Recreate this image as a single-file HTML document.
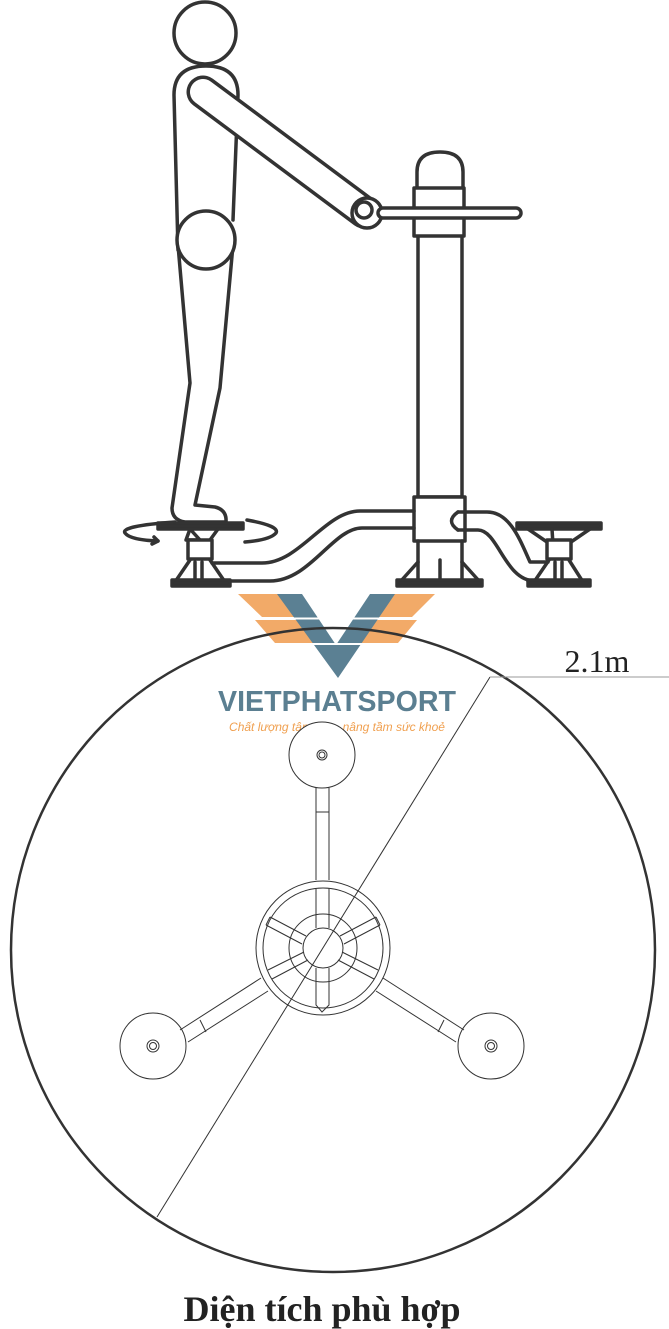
<!DOCTYPE html>
<html><head><meta charset="utf-8"><style>
html,body{margin:0;padding:0;background:#fff;}
svg{display:block;}
</style></head><body>
<svg width="669" height="1329" viewBox="0 0 669 1329" xmlns="http://www.w3.org/2000/svg">
<g fill="none" stroke="#333" stroke-width="3.5" stroke-linejoin="round" stroke-linecap="round">
  <circle cx="205" cy="33" r="31" fill="#fff"/>
  <path d="M178,250 L174,95 Q174,66 206,66 Q238,66 238,95 L233,220" fill="#fff"/>
  <path d="M178,245 L190,383 L172,508 Q172,520 185,522 L226,522 Q227,510 215,507 L195,505 L220,388 L233,245" fill="#fff"/>
  <circle cx="206" cy="240" r="29" fill="#fff"/>
  <line x1="203" y1="92" x2="364" y2="212" stroke="#333" stroke-width="33"/>
  <line x1="203" y1="92" x2="364" y2="212" stroke="#fff" stroke-width="26"/>
  <circle cx="367" cy="213" r="15" fill="#fff"/>
  <circle cx="364" cy="210" r="8"/>
  <rect x="418" y="232" width="44" height="265" fill="#fff"/>
  <path d="M417,188 L417,172 Q417,152 440,152 Q463,152 463,172 L463,188" fill="#fff"/>
  <rect x="414" y="188" width="50" height="48" fill="#fff"/>
  <rect x="378" y="208" width="143" height="10" rx="5" fill="#fff"/>
  <rect x="414" y="497" width="51" height="44" fill="#fff"/>
  <path d="M418,541 L418,580 M462,541 L462,580 M440,560 L440,580"/>
  <path d="M418,562 L400,582 M462,562 L480,582"/>
  <rect x="397" y="580" width="85" height="6" fill="#333"/>
  <path d="M414,511 H360 C325,511 300,563 262,563 H212"/>
  <path d="M414,528 H362 C333,528 310,581 270,581 H232"/>
  <path d="M458,512 H487 C510,512 520,540 530,562 H548"/>
  <path d="M458,530 H478 C498,530 505,581 535,581 H528"/>
  <path d="M458,512 Q445,521 458,530"/>
  <rect x="158" y="523" width="85" height="6" fill="#333"/>
  <path d="M190,529 L200,540 L186,540 Z M218,529 L210,540"/>
  <rect x="188" y="540" width="24" height="19" fill="#fff"/>
  <path d="M190,560 L175,582 M210,560 L225,582 M195,562 L195,582 M202,562 L202,582"/>
  <rect x="172" y="580" width="58" height="6" fill="#333"/>
  <path d="M175,522 Q120,526 125,533 Q130,540 158,541"/>
  <path d="M154,537 L158,541 L152,544" />
  <path d="M247,520 Q280,526 276,533 Q270,540 245,542"/>
  <rect x="517" y="523" width="84" height="6" fill="#333"/>
  <path d="M528,529 L547,542 M590,529 L571,542 M552,529 L553,545"/>
  <rect x="547" y="540" width="24" height="19" fill="#fff"/>
  <path d="M549,560 L534,582 M569,560 L583,582 M555,562 L555,582 M562,562 L562,582"/>
  <rect x="528" y="580" width="62" height="6" fill="#333"/>
</g>

<!-- logo -->
<g>
  <polygon points="238,594 290,594 307,617 262,617" fill="#f2aa68"/>
  <polygon points="255,620 302,620 315,643 275,643" fill="#f2aa68"/>
  <polygon points="435,594 385,594 366,617 412,617" fill="#f2aa68"/>
  <polygon points="417,620 370,620 356,643 398,643" fill="#f2aa68"/>
  <polygon points="277,594 302,594 336,645 370,594 395,594 338,678" fill="#5b8093"/>
  <line x1="240" y1="618.5" x2="440" y2="618.5" stroke="#fff" stroke-width="2"/>
  <line x1="240" y1="644" x2="440" y2="644" stroke="#fff" stroke-width="2"/>
</g>
<text x="337" y="711" text-anchor="middle" font-family="Liberation Sans, sans-serif" font-weight="bold" font-size="29" fill="#5b7f91" textLength="238" lengthAdjust="spacingAndGlyphs">VIETPHATSPORT</text>
<text x="337" y="731" text-anchor="middle" font-family="Liberation Sans, sans-serif" font-style="italic" font-size="12" fill="#f0a050">Chất lượng tận tâm - nâng tầm sức khoẻ</text>

<g fill="none" stroke="#333">
  <circle cx="333" cy="950" r="322" stroke-width="2.5"/>
  <line x1="490" y1="677" x2="157" y2="1217" stroke-width="1"/>
  <line x1="490" y1="677" x2="669" y2="677" stroke="#999" stroke-width="1"/>
  <g stroke-width="1">
    <circle cx="322" cy="755" r="33" fill="#fff"/>
    <circle cx="322" cy="755" r="5"/><circle cx="322" cy="755" r="3"/>
    <circle cx="153" cy="1046" r="33" fill="#fff"/>
    <circle cx="153" cy="1046" r="6"/><circle cx="153" cy="1046" r="3.5"/>
    <circle cx="491" cy="1046" r="33" fill="#fff"/>
    <circle cx="491" cy="1046" r="6"/><circle cx="491" cy="1046" r="3.5"/>
    <path d="M316,788 V880 M329,788 V880 M316,812 H329"/>
    <path d="M180,1030 L261,978 M188,1042 L268,991 M200,1020 L206,1032"/>
    <path d="M464,1030 L383,978 M456,1042 L376,991 M444,1020 L438,1032"/>
    <circle cx="323" cy="948" r="67"/>
    <circle cx="323" cy="948" r="60"/>
    <circle cx="323" cy="948" r="34"/>
    <circle cx="323" cy="948" r="20"/>
    <path d="M316,888 V928 M329,888 V928"/>
    <path d="M316,968 V1005 L322,1012 L329,1005 V968"/>
    <path d="M270,917 L306,936 M266,925 L302,944 M270,917 L266,925"/>
    <path d="M376,917 L340,936 M380,925 L344,944 M376,917 L380,925"/>
    <path d="M268,970 L304,952 M272,979 L308,960"/>
    <path d="M378,970 L342,952 M374,979 L338,960"/>
  </g>
</g>
<text x="597" y="672" text-anchor="middle" font-family="Liberation Serif, serif" font-size="32" fill="#222">2.1m</text>
<text x="322" y="1321" text-anchor="middle" font-family="Liberation Serif, serif" font-weight="bold" font-size="36" fill="#222">Diện tích phù hợp</text>
</svg>
</body></html>
